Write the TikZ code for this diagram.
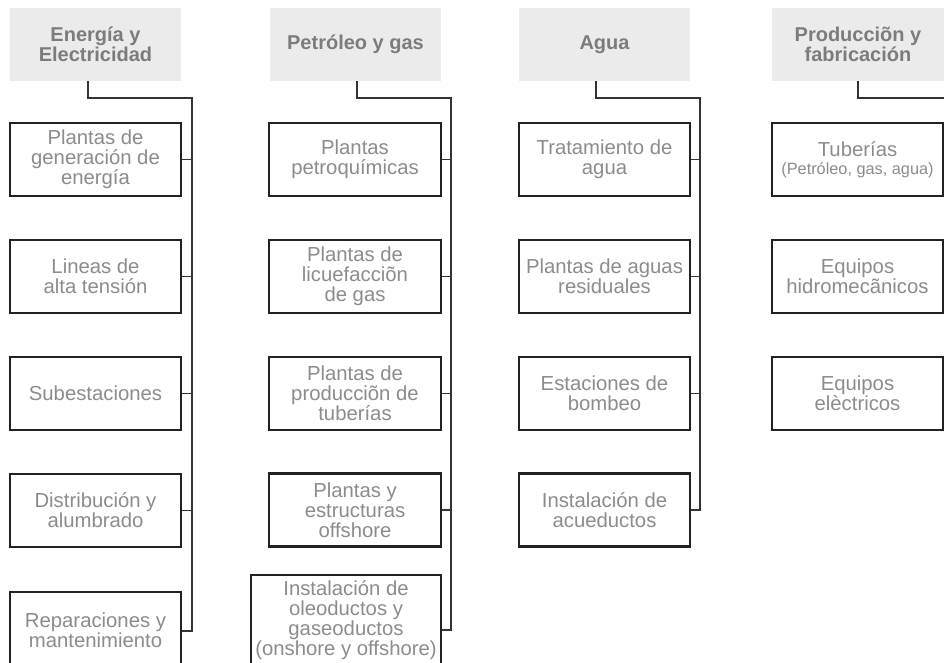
\documentclass[tikz,border=0pt]{standalone}
\usepackage{fontspec}
\setmainfont{Liberation Sans}
\definecolor{hdrfill}{HTML}{EBEBEB}
\definecolor{hdrtext}{HTML}{7C7C7C}
\definecolor{bodytext}{HTML}{8C8C8C}
\definecolor{edge}{HTML}{222222}
\definecolor{wire}{HTML}{333333}
\begin{document}
\begin{tikzpicture}[x=1pt,y=-1pt,
  hdr/.style={rectangle, fill=hdrfill, draw=none, minimum width=171pt, minimum height=73pt,
    inner sep=0pt, align=center, text=hdrtext, font=\fontsize{20}{20.5}\selectfont\bfseries},
  item/.style={rectangle, draw=edge, line width=2.6pt, fill=white, minimum width=171pt, minimum height=73pt,
    inner sep=0pt, align=center, text=bodytext, font=\fontsize{20.3}{19.8}\selectfont},
  conn/.style={draw=wire, line width=1.8pt}]
\clip (0,0) rectangle (944,662);
\fill[white] (0,0) rectangle (944,662);

% headers
\node[hdr] (h1) at (95.5,44.5) {Energía y\\Electricidad};
\node[hdr] (h2) at (355.5,44.5) {Petróleo y gas};
\node[hdr] (h3) at (604.5,44.5) {Agua};
\node[hdr, minimum width=180pt] (h4) at (862,44.5) {};
\node[text=hdrtext, font=\fontsize{20}{20.5}\selectfont\bfseries, align=center] (h4t) at (858,44.5) {Producciõn y\\fabricación};

% junction coordinates
\coordinate (v1) at (192,98);
\coordinate (v2) at (451,98);
\coordinate (v3) at (700,98);
\coordinate (v4) at (950,98);

% column 1
\node[item] (b11) at (95.5,159.5) {Plantas de\\generación de\\energía};
\node[item] (b12) at (95.5,276.5) {Lineas de\\alta tensión};
\node[item] (b13) at (95.5,393.5) {Subestaciones};
\node[item] (b14) at (95.5,510.5) {Distribución y\\alumbrado};
\node[item, minimum height=76pt] (b15) at (95.5,630) {Reparaciones y\\mantenimiento};

% column 2
\node[item, minimum width=172pt] (b21) at (355,159.5) {Plantas\\petroquímicas};
\node[item, minimum width=172pt] (b22) at (355,276.5) {Plantas de\\licuefacciõn\\de gas};
\node[item, minimum width=172pt] (b23) at (355,393.5) {Plantas de\\producciõn de\\tuberías};
\node[item, minimum width=172pt] (b24) at (355,510) {Plantas y\\estructuras\\offshore};
\node[item, minimum width=190pt, minimum height=90pt] (b25) at (346,620) {Instalación de\\oleoductos y\\gaseoductos\\(onshore y offshore)};

% column 3
\node[item] (b31) at (604.5,159.5) {Tratamiento de\\agua};
\node[item] (b32) at (604.5,276.5) {Plantas de aguas\\residuales};
\node[item] (b33) at (604.5,393.5) {Estaciones de\\bombeo};
\node[item] (b34) at (604.5,510) {Instalación de\\acueductos};

% column 4
\node[item] (b41) at (857.5,159.5) {Tuberías\\[-2pt]{\fontsize{16.3}{17}\selectfont(Petróleo, gas, agua)}};
\node[item] (b42) at (857.5,276.5) {Equipos\\hidromecãnicos};
\node[item] (b43) at (857.5,393.5) {Equipos\\elèctricos};

% connectors
\draw[conn] ([xshift=-7.5pt]h1.south) |- (v1) |- ([yshift=-1pt]b15.east);
\foreach \b in {b11,b12,b13,b14} \draw[conn] (\b.east) -- (\b.east -| v1);

\draw[conn] ([xshift=1.5pt]h2.south) |- (v2) |- ([yshift=-10pt]b25.east);
\foreach \b in {b21,b22,b23,b24} \draw[conn] (\b.east) -- (\b.east -| v2);

\draw[conn] ([xshift=-8.5pt]h3.south) |- (v3) |- (b34.east);
\foreach \b in {b31,b32,b33} \draw[conn] (\b.east) -- (\b.east -| v3);

\draw[conn] (857.7,81) |- (v4);
\end{tikzpicture}
\end{document}
